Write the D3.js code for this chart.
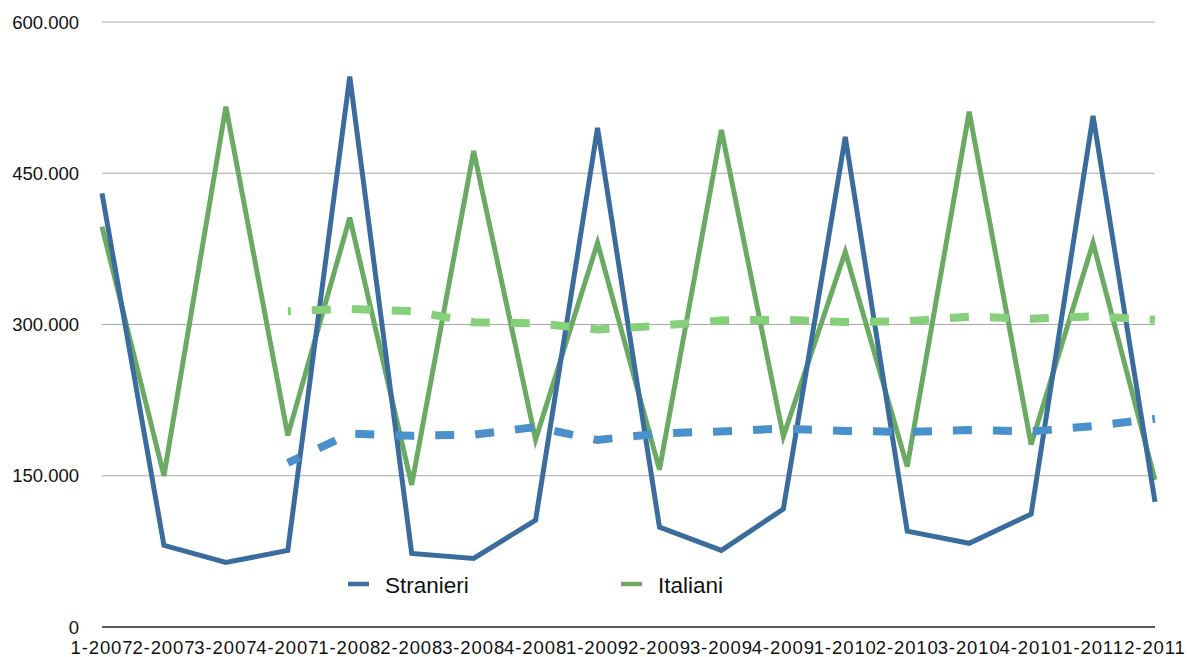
<!DOCTYPE html>
<html>
<head>
<meta charset="utf-8">
<script src="https://cdn.jsdelivr.net/npm/d3@7"></script>
<style>
  html, body { margin: 0; padding: 0; background: #fff; }
  svg { display: block; font-family: "Liberation Sans", Arial, Helvetica, sans-serif; }
</style>
</head>
<body>
<svg id="chart" width="1189" height="657"></svg>
<script>
// Quarterly periods (quarter-year)
const periods = [
  "1-2007", "2-2007", "3-2007", "4-2007",
  "1-2008", "2-2008", "3-2008", "4-2008",
  "1-2009", "2-2009", "3-2009", "4-2009",
  "1-2010", "2-2010", "3-2010", "4-2010",
  "1-2011", "2-2011"
];

// Values in thousands
const stranieri = [430, 81, 64, 76, 546, 73, 68, 106, 495, 99, 76, 117, 486, 95, 83, 112, 507, 124];
const italiani  = [397, 150, 516, 190, 406, 141, 472, 186, 381, 156, 493, 189, 372, 159, 511, 181, 381, 146];

const yTicks = [0, 150, 300, 450, 600];
const seriesNames = ["Stranieri", "Italiani"];

const colors = {
  stranieri: "#3a6d9d",
  italiani: "#6aaa62",
  stranieriTrend: "#4a90cb",
  italianiTrend: "#86cf7b"
};

const svg = d3.select("#chart");

const x = d3.scalePoint().domain(periods).range([102, 1155]);
const y = d3.scaleLinear().domain([0, 600]).range([627, 22]);

const fmt = v => v === 0 ? "0" : d3.format(".3f")(v).replace(",", "");

// Gridlines
svg.append("g")
  .selectAll("line")
  .data(yTicks.filter(d => d > 0))
  .join("line")
  .attr("x1", x.range()[0])
  .attr("x2", x.range()[1])
  .attr("y1", d => y(d))
  .attr("y2", d => y(d))
  .attr("stroke", "#a9a9a9")
  .attr("stroke-width", 1.2);

// Y axis labels
svg.append("g")
  .selectAll("text")
  .data(yTicks)
  .join("text")
  .attr("x", 79)
  .attr("y", d => y(d))
  .attr("dy", "0.36em")
  .attr("text-anchor", "end")
  .attr("font-size", 18.5)
  .attr("fill", "#111")
  .text(d => d === 0 ? "0" : (d + ".000"));

// Baseline
svg.append("line")
  .attr("x1", x.range()[0])
  .attr("x2", x.range()[1])
  .attr("y1", y(0))
  .attr("y2", y(0))
  .attr("stroke", "#222")
  .attr("stroke-width", 1.6);

// X axis labels
svg.append("g")
  .selectAll("text")
  .data(periods)
  .join("text")
  .attr("x", d => x(d))
  .attr("y", 654)
  .attr("text-anchor", "middle")
  .attr("font-size", 18.5)
  .attr("letter-spacing", "0.9px")
  .attr("fill", "#111")
  .text(d => d);

const line = d3.line()
  .defined(d => d.v != null)
  .x(d => x(d.p))
  .y(d => y(d.v));

const toPoints = arr => arr.map((v, i) => ({ p: periods[i], v }));

// Trailing 4-period moving average trendline
const movingAvg = (arr, n) => arr.map((v, i) => i < n - 1 ? null : d3.mean(arr.slice(i - n + 1, i + 1)));

// Solid series
svg.append("path")
  .datum(toPoints(italiani))
  .attr("d", line)
  .attr("fill", "none")
  .attr("stroke", colors.italiani)
  .attr("stroke-width", 5);

svg.append("path")
  .datum(toPoints(stranieri))
  .attr("d", line)
  .attr("fill", "none")
  .attr("stroke", colors.stranieri)
  .attr("stroke-width", 5);

// Dashed trendlines
svg.append("path")
  .datum(toPoints(movingAvg(italiani, 4)))
  .attr("d", line)
  .attr("fill", "none")
  .attr("stroke", colors.italianiTrend)
  .attr("stroke-width", 8)
  .attr("stroke-dasharray", "19,21")
  .attr("stroke-dashoffset", 16);

svg.append("path")
  .datum(toPoints(movingAvg(stranieri, 4)))
  .attr("d", line)
  .attr("fill", "none")
  .attr("stroke", colors.stranieriTrend)
  .attr("stroke-width", 8)
  .attr("stroke-dasharray", "19,21")
  .attr("stroke-dashoffset", 6);

// Legend
const legend = [
  { name: seriesNames[0], color: colors.stranieri, x: 348 },
  { name: seriesNames[1], color: colors.italiani, x: 621 }
];
const lg = svg.append("g").selectAll("g").data(legend).join("g")
  .attr("transform", d => `translate(${d.x},584)`);
lg.append("line")
  .attr("x1", 0).attr("x2", 21)
  .attr("y1", 0).attr("y2", 0)
  .attr("stroke", d => d.color)
  .attr("stroke-width", 4.5);
lg.append("text")
  .attr("x", 37)
  .attr("y", 9)
  .attr("font-size", 22.5)
  .attr("fill", "#111")
  .text(d => d.name);
</script>
</body>
</html>
